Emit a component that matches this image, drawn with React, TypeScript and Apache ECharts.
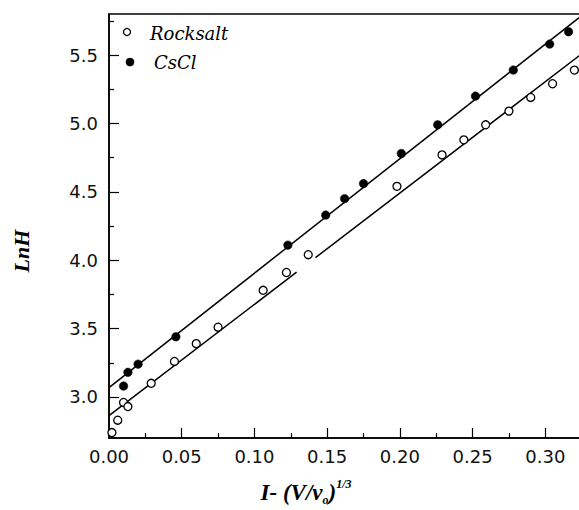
import React, { useEffect, useRef } from "react";
import * as echarts from "echarts";

// Rocksalt (open circles)
const rocksaltX = [0.002, 0.006, 0.010, 0.013, 0.029, 0.045, 0.060, 0.075, 0.106, 0.122, 0.137, 0.198, 0.229, 0.244, 0.259, 0.275, 0.290, 0.305, 0.320];
const rocksaltY = [2.74, 2.83, 2.96, 2.93, 3.10, 3.26, 3.39, 3.51, 3.78, 3.91, 4.04, 4.54, 4.77, 4.88, 4.99, 5.09, 5.19, 5.29, 5.39];
// CsCl (filled circles)
const csclX = [0.010, 0.013, 0.020, 0.046, 0.123, 0.149, 0.162, 0.175, 0.201, 0.226, 0.252, 0.278, 0.303, 0.316];
const csclY = [3.08, 3.18, 3.24, 3.44, 4.11, 4.33, 4.45, 4.56, 4.78, 4.99, 5.20, 5.39, 5.58, 5.67];

// Fitted straight lines: LnH = intercept + slope * x
const rocksaltFit = { intercept: 2.863, slope: 8.14 };
const csclFit = { intercept: 3.068, slope: 8.37 };
// break in the printed rocksalt line
const rocksaltGap = [0.129, 0.142];

const xMin = 0;
const xMax = 0.35;
const xLastLabel = 0.3;
const yMin = 2.7;
const yMax = 5.8;
const yMajorTicks = [3.0, 3.5, 4.0, 4.5, 5.0, 5.5];
const yMinorTicks = [2.75, 3.25, 3.75, 4.25, 4.75, 5.25, 5.75];

const legendNames = ["Rocksalt", "CsCl"];

const fitY = (f: { intercept: number; slope: number }, x: number) => f.intercept + f.slope * x;

export default function App() {
  const ref = useRef<HTMLDivElement>(null);
  useEffect(() => {
    if (!ref.current) return;
    const chart = echarts.init(ref.current, null, { renderer: "svg" });
    const labelFont = { fontFamily: "DejaVu Sans", fontSize: 18, color: "#111" };
    const titleFont = "Liberation Serif";
    chart.setOption({
      animation: false,
      backgroundColor: "#fff",
      grid: {
        left: 109,
        top: 14,
        width: 509,
        height: 424,
        show: true,
        borderColor: "#000",
        borderWidth: 1.5,
        backgroundColor: "transparent",
        outerBoundsMode: "none",
        containLabel: false,
      },
      xAxis: {
        type: "value",
        min: xMin,
        max: xMax,
        interval: 0.05,
        axisLine: { show: true, lineStyle: { color: "#000", width: 1.5 } },
        axisTick: { show: true, inside: true, length: 10, lineStyle: { color: "#000", width: 1.2 } },
        minorTick: { show: true, splitNumber: 2, length: 5, lineStyle: { color: "#000", width: 1.2 } },
        splitLine: { show: false },
        axisLabel: {
          ...labelFont,
          margin: 9,
          showMaxLabel: false,
          formatter: (v: number) => (v > xLastLabel + 1e-9 ? "" : v.toFixed(2)),
        },
      },
      yAxis: [
        {
          type: "value",
          min: yMin,
          max: yMax,
          axisLine: { show: true, lineStyle: { color: "#000", width: 1.5 } },
          axisTick: { show: true, inside: true, length: 10, customValues: yMajorTicks, lineStyle: { color: "#000", width: 1.2 } },
          splitLine: { show: false },
          axisLabel: { ...labelFont, margin: 11, customValues: yMajorTicks, formatter: (v: number) => v.toFixed(1) },
        },
        {
          type: "value",
          position: "left",
          min: yMin,
          max: yMax,
          axisLine: { show: false },
          axisTick: { show: true, inside: true, length: 5, customValues: yMinorTicks, lineStyle: { color: "#000", width: 1.2 } },
          splitLine: { show: false },
          axisLabel: { show: false },
        },
      ],
      series: [
        {
          name: "Rocksalt fit",
          type: "line",
          showSymbol: false,
          symbol: "none",
          clip: true,
          silent: true,
          lineStyle: { color: "#000", width: 1.5 },
          data: [
            [xMin, fitY(rocksaltFit, xMin)],
            [rocksaltGap[0], fitY(rocksaltFit, rocksaltGap[0])],
            [(rocksaltGap[0] + rocksaltGap[1]) / 2, "-"],
            [rocksaltGap[1], fitY(rocksaltFit, rocksaltGap[1])],
            [xMax, fitY(rocksaltFit, xMax)],
          ],
        },
        {
          name: "CsCl fit",
          type: "line",
          showSymbol: false,
          symbol: "none",
          clip: true,
          silent: true,
          lineStyle: { color: "#000", width: 1.5 },
          data: [
            [xMin, fitY(csclFit, xMin)],
            [xMax, fitY(csclFit, xMax)],
          ],
        },
        {
          name: legendNames[0],
          type: "scatter",
          symbol: "circle",
          symbolSize: 8,
          itemStyle: { color: "#fff", borderColor: "#000", borderWidth: 1.3, opacity: 1 },
          data: rocksaltX.map((x, i) => [x, rocksaltY[i]]),
          z: 3,
        },
        {
          name: legendNames[1],
          type: "scatter",
          symbol: "circle",
          symbolSize: 8.5,
          itemStyle: { color: "#000", borderColor: "#000", borderWidth: 0.5, opacity: 1 },
          data: csclX.map((x, i) => [x, csclY[i]]),
          z: 3,
        },
      ],
      graphic: [
        { type: "circle", shape: { cx: 127, cy: 32, r: 3.5 }, style: { fill: "#fff", stroke: "#000", lineWidth: 1.3 } },
        {
          type: "text",
          x: 150,
          y: 33,
          style: { text: legendNames[0], fontFamily: "DejaVu Serif", fontStyle: "italic", fontSize: 18, fill: "#000", textVerticalAlign: "middle" },
        },
        { type: "circle", shape: { cx: 130, cy: 62, r: 4.3 }, style: { fill: "#000" } },
        {
          type: "text",
          x: 154,
          y: 62,
          style: { text: legendNames[1], fontFamily: "DejaVu Serif", fontStyle: "italic", fontSize: 18, fill: "#000", textVerticalAlign: "middle" },
        },
        {
          type: "text",
          x: 21,
          y: 251,
          rotation: Math.PI / 2,
          style: {
            text: "LnH",
            fontFamily: titleFont,
            fontStyle: "italic",
            fontWeight: "bold",
            fontSize: 22,
            fill: "#000",
            textAlign: "center",
            textVerticalAlign: "middle",
          },
        },
        {
          type: "text",
          x: 306,
          y: 492,
          style: {
            text: "{m|I- (V/ν}{s|o}{m|)}{p|1/3}",
            textAlign: "center",
            textVerticalAlign: "middle",
            rich: {
              m: { fontFamily: titleFont, fontStyle: "italic", fontWeight: "bold", fontSize: 23, fill: "#000", lineHeight: 28, verticalAlign: "middle" },
              s: { fontFamily: titleFont, fontStyle: "italic", fontWeight: "bold", fontSize: 12, fill: "#000", verticalAlign: "bottom", lineHeight: 12 },
              p: { fontFamily: titleFont, fontStyle: "italic", fontWeight: "bold", fontSize: 12, fill: "#000", verticalAlign: "top", lineHeight: 12 },
            },
          },
        },
      ],
    });
    return () => chart.dispose();
  }, []);
  return <div ref={ref} style={{ position: "absolute", left: 0, top: 0, width: 579, height: 510 }} />;
}
